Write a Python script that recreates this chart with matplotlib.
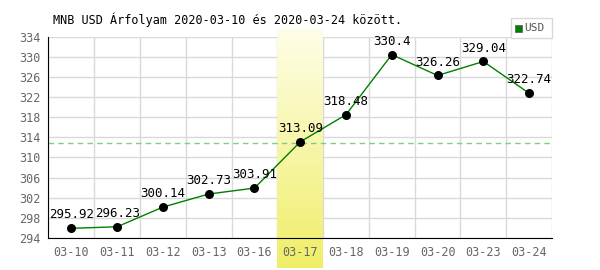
import matplotlib
matplotlib.use("Agg")
import matplotlib.pyplot as plt
import numpy as np
from matplotlib.colors import LinearSegmentedColormap

# 数据
dates = ["03-10", "03-11", "03-12", "03-13", "03-16", "03-17",
         "03-18", "03-19", "03-20", "03-23", "03-24"]
rates = [295.92, 296.23, 300.14, 302.73, 303.91, 313.09,
         318.48, 330.4, 326.26, 329.04, 322.74]
avg_rate = 312.95
highlight_idx = 5
y_ticks = [294, 298, 302, 306, 310, 314, 318, 322, 326, 330, 334]
title = "MNB USD Árfolyam 2020-03-10 és 2020-03-24 között."

plt.rcParams["font.family"] = ["DejaVu Sans Mono"]

fig = plt.figure(figsize=(6, 2.7), dpi=100)
ax = fig.add_axes([48.5 / 600, 1 - 238 / 270, (552 - 48.5) / 600, (238 - 36.5) / 270])

x = np.arange(len(dates))
ymin, ymax = y_ticks[0], y_ticks[-1]

# 网格
for yt in y_ticks:
    ax.axhline(yt, color="#d9d9d9", lw=1, zorder=0)
for xb in np.arange(-0.5, len(dates), 1.0):
    ax.axvline(xb, color="#d9d9d9", lw=1, zorder=0)

# 高亮列（渐变）
px = (ymax - ymin) / 201.5
top = ymax + 6.5 * px
bottom = ymin - 30 * px
cmap = LinearSegmentedColormap.from_list("hl", ["#fefee8", "#f0ee68"])
grad = np.linspace(0, 1, 100).reshape(-1, 1)
ax.imshow(grad, extent=(highlight_idx - 0.5, highlight_idx + 0.5, bottom, top),
          origin="upper", cmap=cmap, aspect="auto", zorder=1, clip_on=False)

# 平均线
ax.axhline(avg_rate, color="#7fcf7f", lw=1, ls=(0, (4, 3)), zorder=2)

# 折线
ax.plot(x, rates, color="#008000", lw=1, zorder=3)
ax.scatter(x, rates, s=30, color="black", zorder=4)
for xi, v in zip(x, rates):
    ax.annotate(f"{v:g}", (xi, v), xytext=(0, 5), textcoords="offset points",
                ha="center", va="bottom", fontsize=9, color="black", zorder=5)

ax.set_xlim(-0.5, len(dates) - 0.5)
ax.set_ylim(ymin, ymax)
ax.set_xticks(x)
ax.set_xticklabels(dates)
ax.set_yticks(y_ticks)
ax.tick_params(length=0, labelsize=8.5, labelcolor="#666666", pad=6)
for s in ["top", "right"]:
    ax.spines[s].set_visible(False)
for s in ["left", "bottom"]:
    ax.spines[s].set_color("black")
    ax.spines[s].set_zorder(6)

fig.text(53 / 600, 1 - 20 / 270, title, fontsize=8.5, va="center", ha="left")

# 图例
lx0, ly0, lw, lh = 511 / 600, 1 - 38 / 270, 41 / 600, 20 / 270
fig.patches.append(plt.Rectangle((lx0, ly0), lw, lh, transform=fig.transFigure,
                                 facecolor="white", edgecolor="#d9d9d9", lw=1))
fig.patches.append(plt.Rectangle((lx0 + 4 / 600, ly0 + 6 / 270), 7 / 600, 7 / 270,
                                 transform=fig.transFigure, facecolor="#008000",
                                 edgecolor="#555555", lw=0.5))
fig.text(lx0 + 13 / 600, ly0 + lh / 2, "USD", fontsize=8, color="#555555",
         va="center", ha="left")

fig.savefig("out.png", dpi=100)
